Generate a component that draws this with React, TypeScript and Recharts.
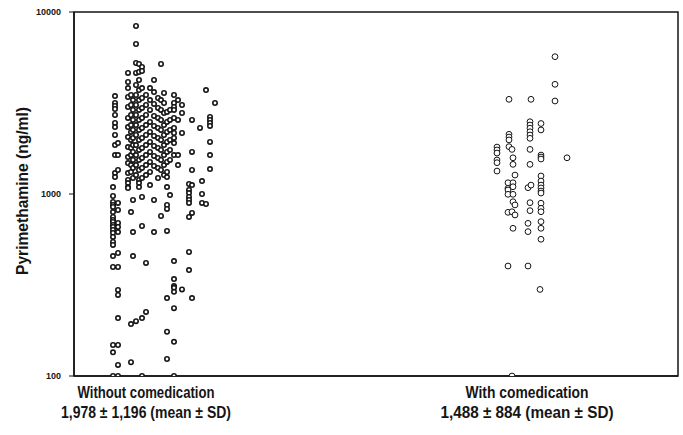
import { ReferenceArea, Scatter, ScatterChart, XAxis, YAxis } from 'recharts'

// jitter position (x) and pyrimethamine concentration (ng/ml), read per column
const withoutColumns: { x: number; values: number[] }[] = [
  { x: 39, values: [1092, 975, 904, 871, 849, 796, 748, 720, 702, 676, 659, 634, 611, 581, 545, 525, 456, 397, 148, 135, 100] },
  { x: 41, values: [3452, 3162, 3048, 2931, 2716, 2455, 2333, 2109, 1858, 1637, 1303, 1239] },
  { x: 44, values: [1905, 1637, 1355, 893, 817, 693, 659, 618, 474, 397, 297, 279, 208, 148, 115, 100] },
  { x: 54, values: [4624, 4125, 3820, 3412, 3006, 2618, 2333, 2056, 1811, 1596, 1479, 1303, 1194, 1148, 1092, 1079] },
  { x: 57, values: [3500, 3083, 2716, 2393, 2193, 1982, 1791, 1637, 1442, 1321, 796, 193, 119] },
  { x: 59, values: [3283, 2897, 2553, 2249, 2032, 1858, 1702, 1538, 1390, 1224, 927, 618, 456] },
  { x: 62, values: [8375, 6670, 5245, 4624, 3970, 3500, 3083, 2716, 2393, 2109, 1858, 1637, 1442, 1271, 200] },
  { x: 65, values: [5180, 4680, 4230, 3725, 3283, 2897, 2553, 2249, 1982, 1746, 1538, 1355, 1194, 1148, 1092] },
  { x: 68, values: [4985, 4742, 3820, 3368, 2972, 2618, 2307, 2032, 1791, 1578, 1390, 1224, 963, 667, 208, 100] },
  { x: 72, values: [3500, 3083, 2716, 2393, 2109, 1858, 1637, 1442, 1271, 418, 225] },
  { x: 76, values: [3820, 3283, 2897, 2489, 2193, 1932, 1702, 1500, 1321, 1119] },
  { x: 80, values: [4230, 3631, 3124, 2685, 2366, 2084, 1837, 1618, 1426, 927, 618] },
  { x: 84, values: [3368, 2972, 2618, 2307, 2032, 1791, 1578, 1390, 1224] },
  { x: 87, values: [5180, 3283, 2897, 2553, 2249, 1982, 1746, 1538, 1355, 757] },
  { x: 90, values: [3589, 3162, 2786, 2393, 2109, 1858, 1637, 1442, 1271] },
  { x: 93, values: [2825, 2489, 2193, 1932, 1702, 1500, 1321, 1239, 1092, 871, 828, 627, 268, 175, 124] },
  { x: 96, values: [2897, 2553, 2249, 1982, 1746, 1538, 987] },
  { x: 100, values: [3500, 3162, 3006, 2897, 2618, 2307, 2163, 2032, 1905, 1637, 428, 341, 312, 305, 290, 236, 154, 100] },
  { x: 104, values: [3283, 2553, 1637, 1442] },
  { x: 108, values: [3083, 2786, 2163, 299] },
  { x: 115, values: [1135, 1052, 1012, 963, 927, 893, 748, 480, 382] },
  { x: 118, values: [2553, 1702, 1355, 1119, 787, 268] },
  { x: 126, values: [2307] },
  { x: 128, values: [1178, 1000, 893] },
  { x: 132, values: [3725, 881] },
  { x: 136, values: [2649, 2553, 2455, 2366, 1932, 1637, 1371] },
  { x: 141, values: [3162] },
]

const withColumns: { x: number; values: number[] }[] = [
  { x: 423, values: [1811, 1746, 1679, 1538, 1486, 1337] },
  { x: 434, values: [1153, 1074, 1052, 996, 793, 402] },
  { x: 435, values: [3313, 2128, 2056, 1982, 1820] },
  { x: 438, values: [1758, 799, 100] },
  { x: 439, values: [1581, 1455, 1153, 1096, 996, 907, 648] },
  { x: 441, values: [1271, 871, 767] },
  { x: 454, values: [1083, 690, 621, 402] },
  { x: 456, values: [2495, 2393, 2300, 2198, 2109, 2023, 1758, 1455, 896, 810] },
  { x: 457, values: [3313, 1119] },
  { x: 466, values: [299] },
  { x: 467, values: [2440, 2249, 1637, 1596, 1556, 1256, 1178, 1119, 1079, 1038, 1012, 890, 834, 799, 705, 648, 564] },
  { x: 481, values: [5680, 4006, 3243] },
  { x: 493, values: [1581] },
]

const groupTicks = [72, 453]
const groupNames = ['Without comedication', 'With comedication']
const groupStats = ['1,978 \u00b1 1,196  (mean \u00b1 SD)', '1,488 \u00b1 884 (mean \u00b1 SD)']
const yTicks = [100, 1000, 10000]

const withoutData = withoutColumns.flatMap((c) => c.values.map((v) => ({ x: c.x, y: v })))
const withData = withColumns.flatMap((c) => c.values.map((v) => ({ x: c.x, y: v })))

const INK = '#151515'
const FONT = 'Arial, Helvetica, sans-serif'

// the original uses a condensed bold face, so squeeze Arial to the widths measured
const nameWidths = [137, 123]
const statWidths = [170, 173]

const GroupTick = ({ x, y, payload }: any) => {
  const i = groupTicks.indexOf(payload.value)
  return (
    <g fontFamily={FONT} fontWeight="bold" fontSize={17} fill={INK}>
      <text x={x} y={y + 22} textAnchor="middle" textLength={nameWidths[i]} lengthAdjust="spacingAndGlyphs">
        {groupNames[i]}
      </text>
      <text x={x} y={y + 42} textAnchor="middle" textLength={statWidths[i]} lengthAdjust="spacingAndGlyphs">
        {groupStats[i]}
      </text>
    </g>
  )
}

const smallDot = (props: any) => (
  <circle cx={props.cx} cy={props.cy} r={2.2} fill="#fff" stroke={INK} strokeWidth={1.6} />
)

const openDot = (props: any) => (
  <circle cx={props.cx} cy={props.cy} r={2.9} fill="#fff" stroke={INK} strokeWidth={1} />
)

export default function App() {
  return (
    <div style={{ position: 'absolute', left: 0, top: 0, background: '#fff' }}>
      <ScatterChart width={683} height={435} margin={{ top: 12, right: 5, bottom: 0, left: 0 }}>
        <ReferenceArea x1={0} x2={604} y1={100} y2={10000} fill="none" stroke={INK} strokeWidth={1.5} />
        <XAxis
          type="number"
          dataKey="x"
          domain={[0, 604]}
          ticks={groupTicks}
          height={59}
          tickLine={false}
          tickSize={0}
          tickMargin={0}
          tick={<GroupTick />}
          axisLine={{ stroke: INK, strokeWidth: 1.5 }}
        />
        <YAxis
          type="number"
          dataKey="y"
          scale="log"
          domain={[100, 10000]}
          allowDataOverflow
          ticks={yTicks}
          width={74}
          tickSize={5}
          tickMargin={8}
          tickLine={{ stroke: INK }}
          axisLine={{ stroke: INK, strokeWidth: 1.5 }}
          tick={{ fill: INK, fontSize: 9, fontWeight: 'bold', fontFamily: FONT }}
          label={{
            content: () => (
              <text
                transform="translate(22,191) rotate(-90)"
                textAnchor="middle"
                dominantBaseline="central"
                fontFamily={FONT}
                fontWeight="bold"
                fontSize={17}
                fill={INK}
                textLength={168}
                lengthAdjust="spacingAndGlyphs"
              >
                Pyrimethamine (ng/ml)
              </text>
            ),
          }}
        />
        <Scatter data={withoutData} shape={smallDot} isAnimationActive={false} />
        <Scatter data={withData} shape={openDot} isAnimationActive={false} />
      </ScatterChart>
    </div>
  )
}
